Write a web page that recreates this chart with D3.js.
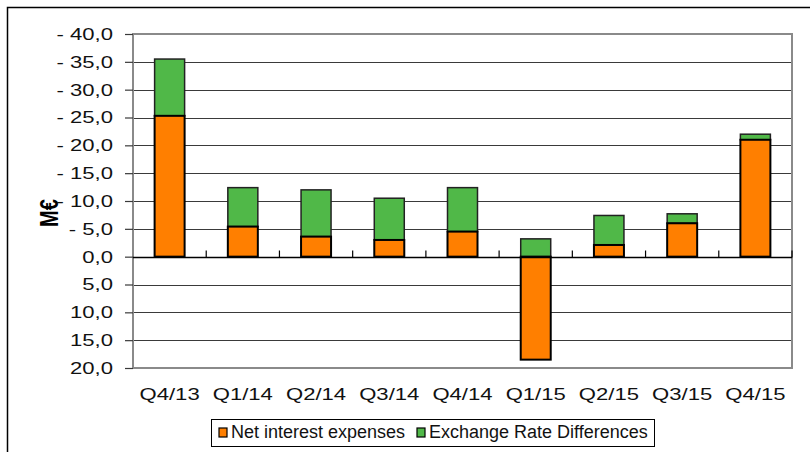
<!DOCTYPE html>
<html>
<head>
<meta charset="utf-8">
<script src="https://cdn.jsdelivr.net/npm/d3@7"></script>
<style>
  body { margin: 0; background: #fff; }
  svg { display: block; font-family: "Liberation Sans", Arial, sans-serif; }
</style>
</head>
<body>
<div id="chart"></div>
<script>
// quarters on the x axis
const quarters = ['Q4/13', 'Q1/14', 'Q2/14', 'Q3/14', 'Q4/14', 'Q1/15', 'Q2/15', 'Q3/15', 'Q4/15']
// values in M€, expenses shown as negative (upwards)
const netInterest = [-25.3, -5.4, -3.6, -3.0, -4.5, 18.5, -2.1, -6.0, -21.0]
const fxDiff = [-10.2, -7.0, -8.4, -7.5, -7.9, -3.2, -5.3, -1.7, -1.0]
const yTicks = [-40, -35, -30, -25, -20, -15, -10, -5, 0, 5, 10, 15, 20]
const seriesNames = ['Net interest expenses', 'Exchange Rate Differences']
const colors = ['#ff7f00', '#50b848']

const width = 810, height = 452
const plot = {left: 133, right: 792, top: 34, bottom: 368}
const stretch = 1.3 // labels in the picture are drawn wide

let svg = d3.select('#chart').append('svg')
  .attr('width', width)
  .attr('height', height)

// outer frame
svg.append('path')
  .attr('d', `M7.5,${height} V7.5 H${width}`)
  .attr('fill', 'none').attr('stroke', '#000').attr('stroke-width', 1.5)

let x = d3.scaleBand().domain(quarters).range([plot.left, plot.right])
let y = d3.scaleLinear().domain([-40, 20]).range([plot.top, plot.bottom])

// gridlines
svg.append('g')
  .selectAll('line')
  .data(yTicks.filter(d => d !== 0 && d !== -40 && d !== 20))
  .enter().append('line')
  .attr('x1', plot.left).attr('x2', plot.right)
  .attr('y1', d => Math.round(y(d)) + 0.5).attr('y2', d => Math.round(y(d)) + 0.5)
  .attr('stroke', '#3a3a3a').attr('stroke-width', 1.2)

// plot border
svg.append('rect')
  .attr('x', plot.left).attr('y', plot.top)
  .attr('width', plot.right - plot.left).attr('height', plot.bottom - plot.top)
  .attr('fill', 'none').attr('stroke', '#8a8a8a').attr('stroke-width', 2)

// y axis
let yAxis = d3.axisLeft(y)
  .tickValues(yTicks)
  .tickSize(8)
  .tickFormat(d => (d < 0 ? '- ' : '') + d3.format('.1f')(Math.abs(d)).replace('.', ','))
let gy = svg.append('g').attr('transform', `translate(${plot.left},0)`).call(yAxis)
gy.select('.domain').remove()
gy.selectAll('.tick line').attr('stroke', '#3a3a3a').attr('stroke-width', 1.2)
gy.selectAll('.tick text')
  .attr('x', 0)
  .attr('transform', `translate(-20,0) scale(${stretch},1)`)
  .attr('font-size', 17).attr('fill', '#111')
  .attr('font-family', '"Liberation Sans", Arial, sans-serif')

svg.append('text')
  .attr('transform', 'translate(58,213) rotate(-90) scale(1,1.3)')
  .attr('text-anchor', 'middle')
  .attr('font-size', 20).attr('font-weight', 'bold')
  .text('M€')

// stacked bars
let barW = 30
let rows = quarters.map((q, i) => ({q: q, a: netInterest[i], b: fxDiff[i]}))
let g = svg.append('g')
rows.forEach(d => {
  let cx = x(d.q) + x.bandwidth() / 2
  let a0 = 0, a1 = d.a
  // green sits on the orange when both point the same way, else starts at 0
  let b0 = Math.sign(d.b) === Math.sign(d.a) ? d.a : 0
  let b1 = b0 + d.b
  g.append('rect')
    .attr('x', cx - barW / 2).attr('width', barW)
    .attr('y', y(Math.min(b0, b1))).attr('height', Math.abs(y(b1) - y(b0)))
    .attr('fill', colors[1]).attr('stroke', '#222').attr('stroke-width', 1.5)
  g.append('rect')
    .attr('x', cx - barW / 2).attr('width', barW)
    .attr('y', y(Math.min(a0, a1))).attr('height', Math.abs(y(a1) - y(a0)))
    .attr('fill', colors[0]).attr('stroke', '#000').attr('stroke-width', 2)
})

// zero axis with category ticks
let zy = Math.round(y(0)) + 0.5
svg.append('line')
  .attr('x1', plot.left).attr('x2', plot.right)
  .attr('y1', zy).attr('y2', zy)
  .attr('stroke', '#000').attr('stroke-width', 1.5)
svg.append('g')
  .selectAll('line')
  .data(quarters.slice(1).concat(['end']))
  .enter().append('line')
  .attr('x1', (d, i) => i < quarters.length - 1 ? x(d) : plot.right)
  .attr('x2', (d, i) => i < quarters.length - 1 ? x(d) : plot.right)
  .attr('y1', zy).attr('y2', zy - 7)
  .attr('stroke', '#000').attr('stroke-width', 1.2)

// category labels
let xLab = d3.axisBottom(x).tickSize(0).tickPadding(0)
let gx = svg.append('g').attr('transform', `translate(0,${plot.bottom + 20})`).call(xLab)
gx.select('.domain').remove()
gx.selectAll('.tick text')
  .attr('transform', `scale(${stretch},1)`)
  .attr('font-size', 17).attr('fill', '#111')
  .attr('font-family', '"Liberation Sans", Arial, sans-serif')

// legend
let lg = svg.append('g')
lg.append('rect')
  .attr('x', 211.5).attr('y', 419.5).attr('width', 443).attr('height', 27)
  .attr('fill', '#fff').attr('stroke', '#000').attr('stroke-width', 1)
let lx = [219, 417]
seriesNames.forEach((n, i) => {
  lg.append('rect')
    .attr('x', lx[i]).attr('y', 428).attr('width', 8).attr('height', 9)
    .attr('fill', colors[i]).attr('stroke', '#000').attr('stroke-width', 1.2)
  lg.append('text')
    .attr('x', lx[i] + 12).attr('y', 438)
    .attr('font-size', 18).attr('fill', '#111')
    .text(n)
})
</script>
</body>
</html>
